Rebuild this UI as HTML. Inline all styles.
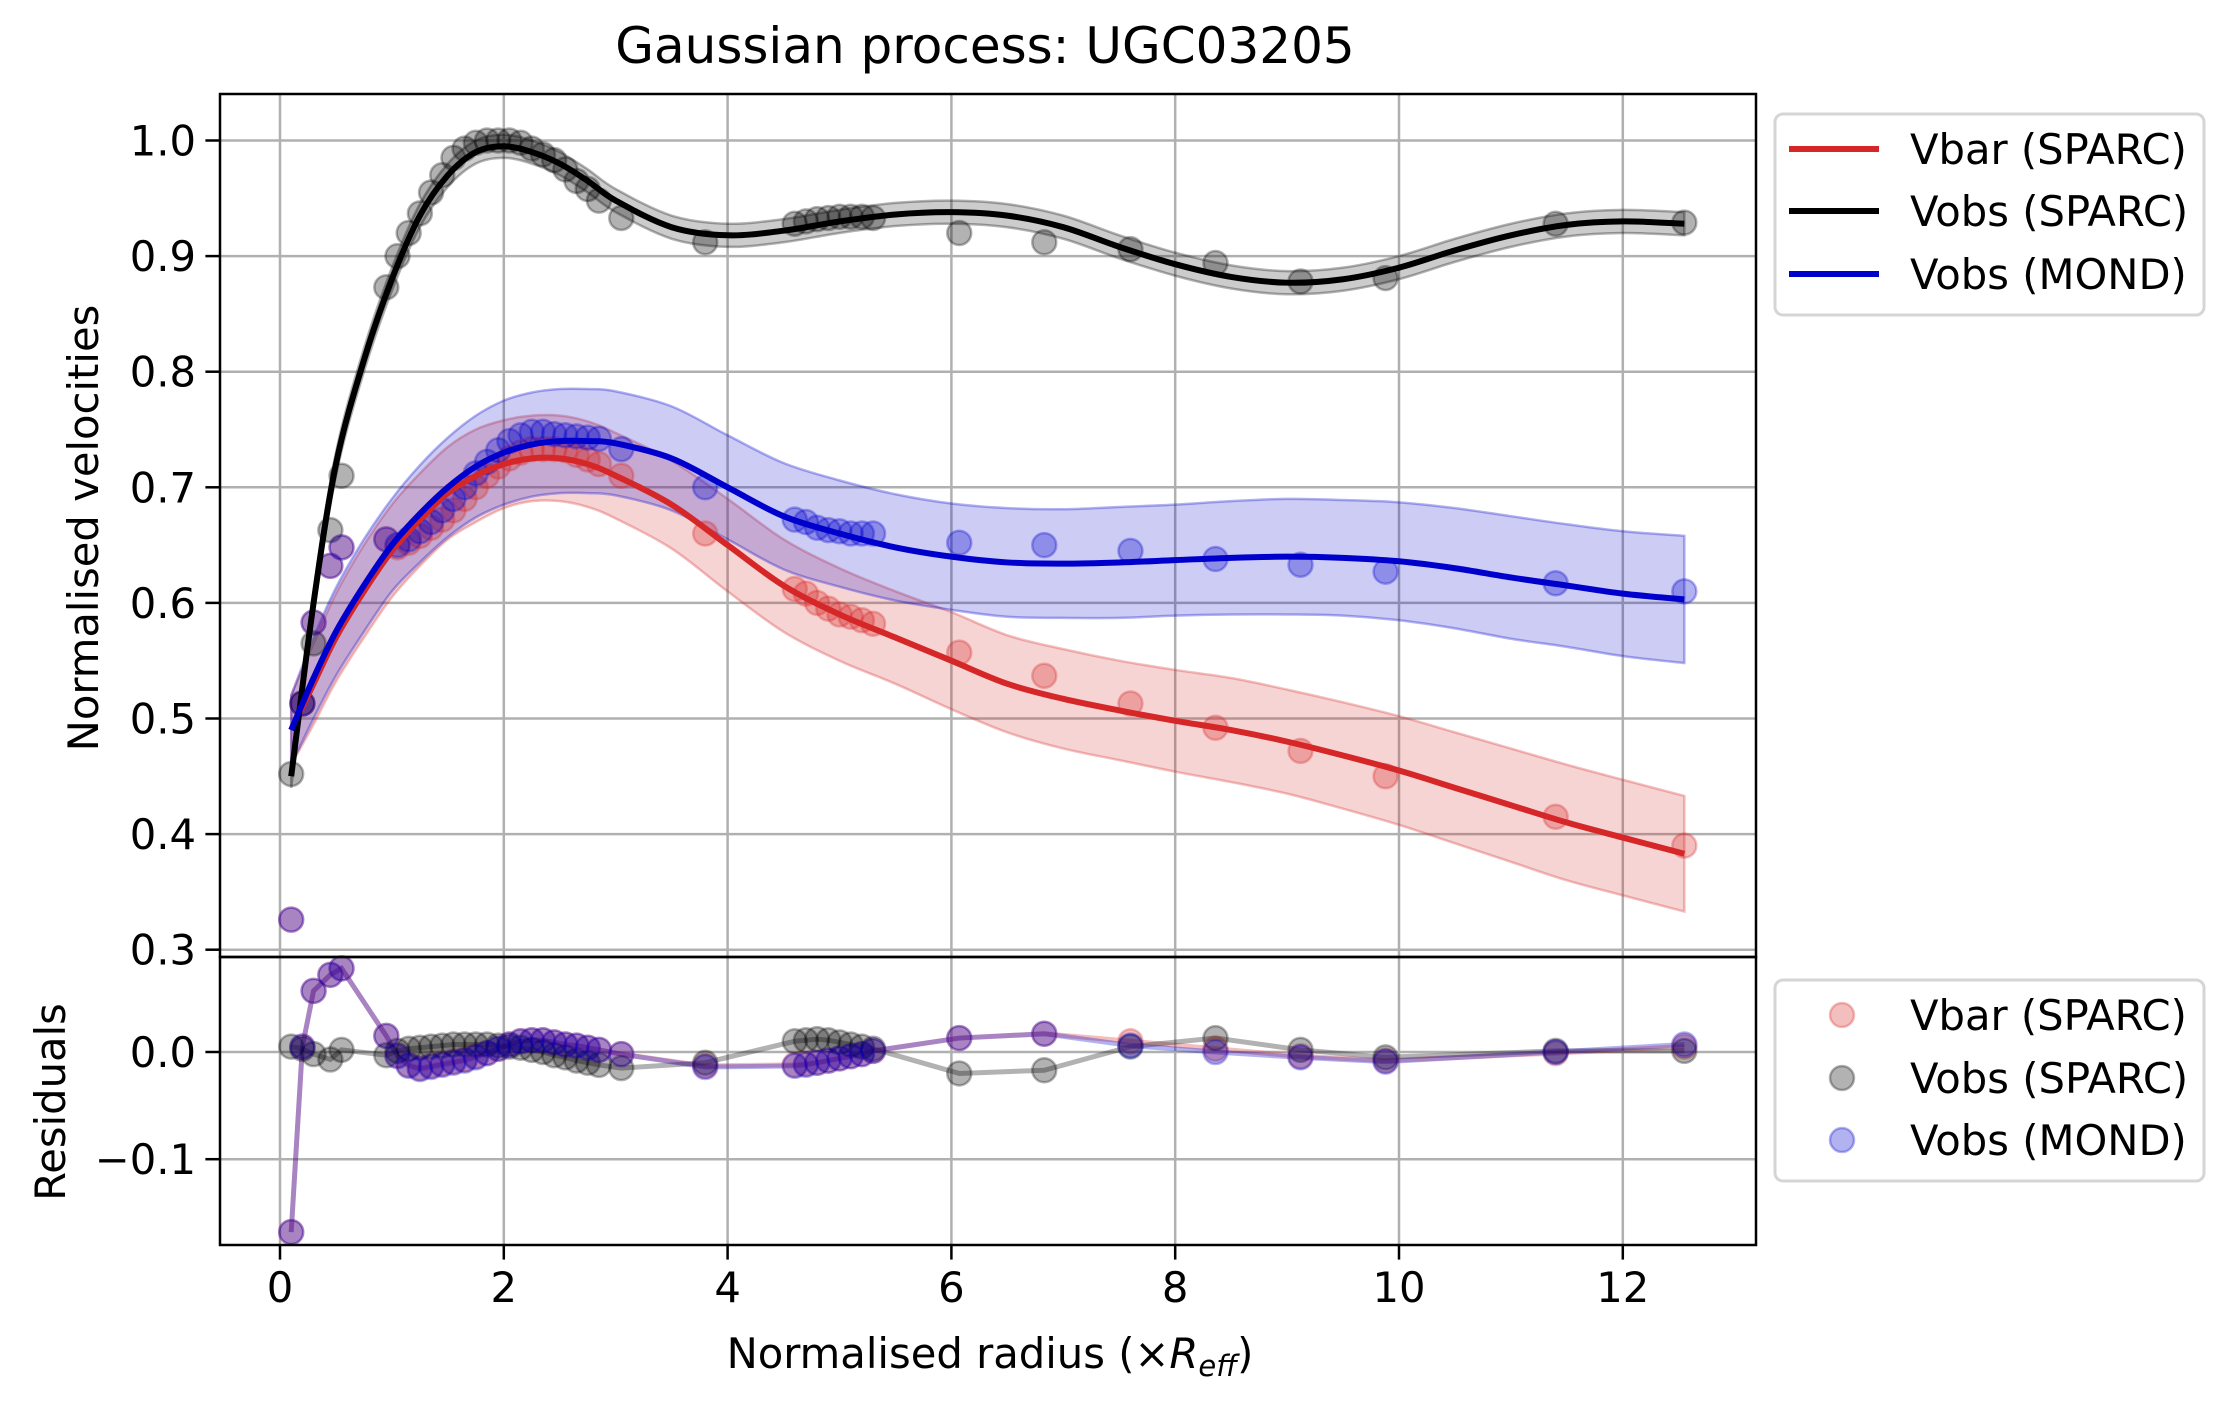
<!DOCTYPE html>
<html><head><meta charset="utf-8"><style>
body{margin:0;background:#fff}
svg text{font-family:"DejaVu Sans","Liberation Sans",sans-serif;fill:#000}
</style></head><body>
<svg id="c" width="2233" height="1406" viewBox="0 0 2233 1406" xmlns="http://www.w3.org/2000/svg">
<rect width="2233" height="1406" fill="#fff"/>
<text x="985" y="63" font-size="50" text-anchor="middle">Gaussian process: UGC03205</text>
<g id="main"></g>
<g id="res"></g>
<text transform="translate(98,528) rotate(-90)" font-size="41.7" text-anchor="middle">Normalised velocities</text>
<text transform="translate(65,1102) rotate(-90)" font-size="41.7" text-anchor="middle">Residuals</text>
<text x="990" y="1368" font-size="41.7" text-anchor="middle">Normalised radius (×<tspan font-style="italic">R</tspan><tspan font-style="italic" font-size="29" dy="8">eff</tspan><tspan dy="-8">)</tspan></text>
<g>
<rect x="1775" y="114" width="429" height="201" rx="8" fill="#fff" stroke="#d5d5d5" stroke-width="3"/>
<line x1="1789" y1="149" x2="1879" y2="149" stroke="#d62728" stroke-width="6"/>
<text x="1910" y="164" font-size="41.7">Vbar (SPARC)</text>
<line x1="1789" y1="211" x2="1879" y2="211" stroke="#000" stroke-width="6"/>
<text x="1910" y="226" font-size="41.7">Vobs (SPARC)</text>
<line x1="1789" y1="274" x2="1879" y2="274" stroke="#0000cd" stroke-width="6"/>
<text x="1910" y="289" font-size="41.7">Vobs (MOND)</text>
</g>
<g>
<rect x="1775" y="980" width="429" height="201" rx="8" fill="#fff" stroke="#d5d5d5" stroke-width="3"/>
<circle cx="1842" cy="1015" r="12" fill="#d62728" fill-opacity="0.3" stroke="#d62728" stroke-opacity="0.3" stroke-width="2.5"/>
<text x="1910" y="1030" font-size="41.7">Vbar (SPARC)</text>
<circle cx="1842" cy="1078" r="12" fill="#000" fill-opacity="0.3" stroke="#000" stroke-opacity="0.3" stroke-width="2.5"/>
<text x="1910" y="1093" font-size="41.7">Vobs (SPARC)</text>
<circle cx="1842" cy="1140" r="12" fill="#0000cd" fill-opacity="0.3" stroke="#0000cd" stroke-opacity="0.3" stroke-width="2.5"/>
<text x="1910" y="1155" font-size="41.7">Vobs (MOND)</text>
</g>
</svg>
<script>
// ---- data ----
const ptX = [0.1,0.2,0.3,0.45,0.55,0.95,1.05,1.15,1.25,1.35,1.45,1.55,1.65,1.75,1.85,1.95,2.05,2.15,2.25,2.35,2.45,2.55,2.65,2.75,2.85,3.05,3.8,4.6,4.7,4.8,4.9,5.0,5.1,5.2,5.3,6.07,6.83,7.6,8.36,9.12,9.88,11.4,12.55];
const vobs = [0.452,0.513,0.565,0.663,0.71,0.873,0.90,0.92,0.937,0.955,0.97,0.985,0.993,0.998,1.0,1.0,1.0,0.998,0.993,0.988,0.983,0.975,0.965,0.958,0.948,0.933,0.912,0.928,0.93,0.932,0.933,0.934,0.934,0.934,0.933,0.92,0.912,0.906,0.894,0.878,0.881,0.928,0.929];
const vbar = [0.326,0.513,0.583,0.632,0.648,0.655,0.648,0.652,0.658,0.665,0.672,0.68,0.69,0.70,0.71,0.718,0.725,0.73,0.733,0.733,0.733,0.732,0.728,0.724,0.72,0.71,0.66,0.612,0.608,0.60,0.595,0.59,0.588,0.585,0.582,0.557,0.537,0.513,0.492,0.472,0.45,0.415,0.39];
const vmond = [0.326,0.513,0.583,0.632,0.648,0.655,0.65,0.655,0.662,0.67,0.68,0.69,0.70,0.712,0.722,0.732,0.74,0.745,0.748,0.748,0.746,0.745,0.744,0.743,0.742,0.733,0.70,0.672,0.67,0.665,0.663,0.662,0.66,0.66,0.66,0.652,0.65,0.645,0.638,0.633,0.627,0.617,0.61];
const resBar = [-0.168,0.005,0.057,0.072,0.078,0.015,-0.003,-0.012,-0.015,-0.013,-0.011,-0.009,-0.007,-0.004,-0.001,0.003,0.007,0.01,0.011,0.011,0.009,0.007,0.006,0.004,0.002,-0.002,-0.013,-0.012,-0.011,-0.01,-0.008,-0.006,-0.004,-0.002,0.001,0.013,0.017,0.01,0.003,-0.004,-0.008,-0.001,0.005];
const resMond = [-0.168,0.005,0.057,0.072,0.078,0.015,-0.004,-0.013,-0.016,-0.014,-0.012,-0.01,-0.008,-0.005,-0.001,0.003,0.007,0.01,0.011,0.011,0.009,0.007,0.006,0.004,0.002,-0.002,-0.014,-0.013,-0.012,-0.01,-0.008,-0.006,-0.004,-0.002,0.001,0.013,0.017,0.006,0.0,-0.005,-0.009,0.0,0.007];
const resObs = [0.005,0.003,-0.002,-0.007,0.002,-0.003,0.001,0.003,0.004,0.005,0.006,0.007,0.007,0.007,0.007,0.006,0.005,0.004,0.002,0.0,-0.003,-0.005,-0.008,-0.01,-0.012,-0.015,-0.01,0.01,0.011,0.012,0.011,0.009,0.007,0.005,0.003,-0.02,-0.017,0.005,0.013,0.002,-0.005,0.001,0.001];
const gpX = [0.1,0.3,0.5,0.75,1.0,1.25,1.5,1.75,2.0,2.25,2.5,2.75,3.0,3.5,4.0,4.5,5.0,5.5,6.0,6.5,7.0,7.5,8.0,8.5,9.0,9.5,10.0,10.5,11.0,11.5,12.0,12.55];
const gpObs = [0.45,0.6,0.72,0.81,0.88,0.935,0.97,0.99,0.995,0.99,0.98,0.965,0.948,0.925,0.918,0.922,0.93,0.936,0.938,0.935,0.925,0.908,0.893,0.882,0.877,0.88,0.89,0.905,0.918,0.927,0.93,0.928];
const gpBar = [0.49,0.53,0.57,0.61,0.645,0.672,0.695,0.71,0.72,0.725,0.725,0.72,0.71,0.685,0.65,0.615,0.59,0.57,0.55,0.53,0.517,0.507,0.498,0.49,0.48,0.468,0.455,0.44,0.425,0.41,0.397,0.383];
const gpMond = [0.49,0.535,0.575,0.615,0.65,0.677,0.70,0.718,0.73,0.737,0.74,0.74,0.738,0.725,0.70,0.675,0.66,0.648,0.64,0.635,0.634,0.635,0.637,0.639,0.64,0.639,0.636,0.63,0.622,0.615,0.608,0.603];
const bandObs = [0.01,0.01,0.01,0.01,0.01,0.01,0.01,0.01,0.01,0.01,0.01,0.01,0.01,0.01,0.01,0.01,0.01,0.01,0.01,0.01,0.01,0.01,0.01,0.01,0.01,0.01,0.01,0.01,0.01,0.01,0.01,0.01];
const bandBar = [0.03,0.035,0.038,0.04,0.04,0.04,0.04,0.04,0.038,0.037,0.037,0.037,0.037,0.038,0.04,0.04,0.04,0.04,0.042,0.042,0.043,0.043,0.044,0.045,0.045,0.046,0.047,0.048,0.049,0.05,0.05,0.05];
const bandMond = [0.03,0.035,0.038,0.04,0.04,0.042,0.043,0.044,0.045,0.045,0.045,0.045,0.045,0.045,0.045,0.046,0.046,0.046,0.046,0.047,0.047,0.048,0.048,0.049,0.05,0.05,0.051,0.052,0.053,0.053,0.054,0.055];
const xTicks = [0,2,4,6,8,10,12];
const yTicks = [0.3,0.4,0.5,0.6,0.7,0.8,0.9,1.0];
const yTickLabels = ["0.3","0.4","0.5","0.6","0.7","0.8","0.9","1.0"];
const rTicks = [-0.1,0.0];
const rTickLabels = ["\u22120.1","0.0"];

// ---- axes ----
const L=220,R=1756,T=94,M=957,B=1245;
const X=v=>280+v*111.9;
const Y=v=>140.5+(1.0-v)*1156;
const RY=v=>1052-v*1072;
const NS="http://www.w3.org/2000/svg";
const svg=document.getElementById('c');
function mk(tag,attrs,parent){const e=document.createElementNS(NS,tag);for(const k in attrs)e.setAttribute(k,attrs[k]);(parent||svg).appendChild(e);return e;}
const main=document.getElementById('main'), res=document.getElementById('res');
const defs=mk('defs',{});
const cp1=mk('clipPath',{id:'cm'},defs);mk('rect',{x:L,y:T,width:R-L,height:M-T},cp1);

function spline(P,move){
  let d=(move?'M':'L')+P[0][0]+','+P[0][1];
  for(let i=0;i<P.length-1;i++){
    const p0=P[Math.max(0,i-1)],p1=P[i],p2=P[i+1],p3=P[Math.min(P.length-1,i+2)];
    const c1x=p1[0]+(p2[0]-p0[0])/6,c1y=p1[1]+(p2[1]-p0[1])/6;
    const c2x=p2[0]-(p3[0]-p1[0])/6,c2y=p2[1]-(p3[1]-p1[1])/6;
    d+='C'+c1x+','+c1y+' '+c2x+','+c2y+' '+p2[0]+','+p2[1];
  }
  return d;
}

xTicks.forEach(t=>{
  const g1=mk('line',{x1:X(t),x2:X(t),y1:T,y2:M,stroke:'#b0b0b0','stroke-width':2.5},main);
  
  
  const g2=mk('line',{x1:X(t),x2:X(t),y1:M,y2:B,stroke:'#b0b0b0','stroke-width':2.5},res);
  
  
  const tk=mk('line',{x1:X(t),x2:X(t),y1:B,y2:B+14.6,stroke:'#000','stroke-width':2.5});
  
  
  const tl=mk('text',{x:X(t),y:B+57,'font-size':41.7,'text-anchor':'middle'});
  tl.textContent=String(t);
  
  
});
yTicks.forEach((t,i)=>{
  const g=mk('line',{x1:L,x2:R,y1:Y(t),y2:Y(t),stroke:'#b0b0b0','stroke-width':2.5},main);
  
  
  const tk=mk('line',{x1:L-14.6,x2:L,y1:Y(t),y2:Y(t),stroke:'#000','stroke-width':2.5});
  
  
  const tl=mk('text',{x:L-24,y:Y(t)+15,'font-size':41.7,'text-anchor':'end'});
  tl.textContent=yTickLabels[i];
  
  
});
rTicks.forEach((t,i)=>{
  const g=mk('line',{x1:L,x2:R,y1:RY(t),y2:RY(t),stroke:'#b0b0b0','stroke-width':2.5},res);
  
  
  const tk=mk('line',{x1:L-14.6,x2:L,y1:RY(t),y2:RY(t),stroke:'#000','stroke-width':2.5});
  
  
  const tl=mk('text',{x:L-24,y:RY(t)+15,'font-size':41.7,'text-anchor':'end'});
  tl.textContent=rTickLabels[i];
  
  
});

function band(mean,sd,col,name){
  const up=gpX.map((x,i)=>[X(x),Y(mean[i]+sd[i])]);
  const lo=gpX.map((x,i)=>[X(x),Y(mean[i]-sd[i])]).reverse();
  const d=spline(up,true)+spline(lo,false)+'Z';
  const p=mk('path',{d:d,fill:col,'fill-opacity':0.2,stroke:col,'stroke-opacity':0.3,'stroke-width':2.5,'clip-path':'url(#cm)'},main);
  
  
}
function curve(mean,col,name){
  const P=gpX.map((x,i)=>[X(x),Y(mean[i])]);
  const p=mk('path',{d:spline(P,true),fill:'none',stroke:col,'stroke-width':6,'stroke-linejoin':'round','clip-path':'url(#cm)'},main);
  
  
}
band(gpBar,bandBar,'#d62728','vbar-band');
band(gpMond,bandMond,'#0000cd','mond-band');
band(gpObs,bandObs,'#000000','vobs-band');

function pts(vals,col,name,yf,parent){
  vals.forEach((v,i)=>{
    const c=mk('circle',{cx:X(ptX[i]),cy:yf(v),r:12,fill:col,'fill-opacity':0.3,stroke:col,'stroke-opacity':0.3,'stroke-width':2.5},parent);
    
    
  });
}
pts(vbar,'#d62728','vbar-point',Y,main);
pts(vobs,'#000000','vobs-point',Y,main);
pts(vmond,'#0000cd','mond-point',Y,main);
curve(gpBar,'#d62728','vbar-gp-mean');
curve(gpObs,'#000000','vobs-gp-mean');
curve(gpMond,'#0000cd','mond-gp-mean');

function rline(vals,col,name){
  const p=mk('path',{d:'M'+vals.map((v,i)=>X(ptX[i])+','+RY(v)).join('L'),fill:'none',stroke:col,'stroke-opacity':0.3,'stroke-width':5},res);
  
  
}
rline(resBar,'#d62728','vbar-residual-line');
rline(resObs,'#000000','vobs-residual-line');
rline(resMond,'#0000cd','mond-residual-line');
pts(resBar,'#d62728','vbar-residual-point',RY,res);
pts(resObs,'#000000','vobs-residual-point',RY,res);
pts(resMond,'#0000cd','mond-residual-point',RY,res);

const s1=mk('rect',{x:L,y:T,width:R-L,height:M-T,fill:'none',stroke:'#000','stroke-width':2.5});


const s2=mk('rect',{x:L,y:M,width:R-L,height:B-M,fill:'none',stroke:'#000','stroke-width':2.5});


</script>
</body></html>
